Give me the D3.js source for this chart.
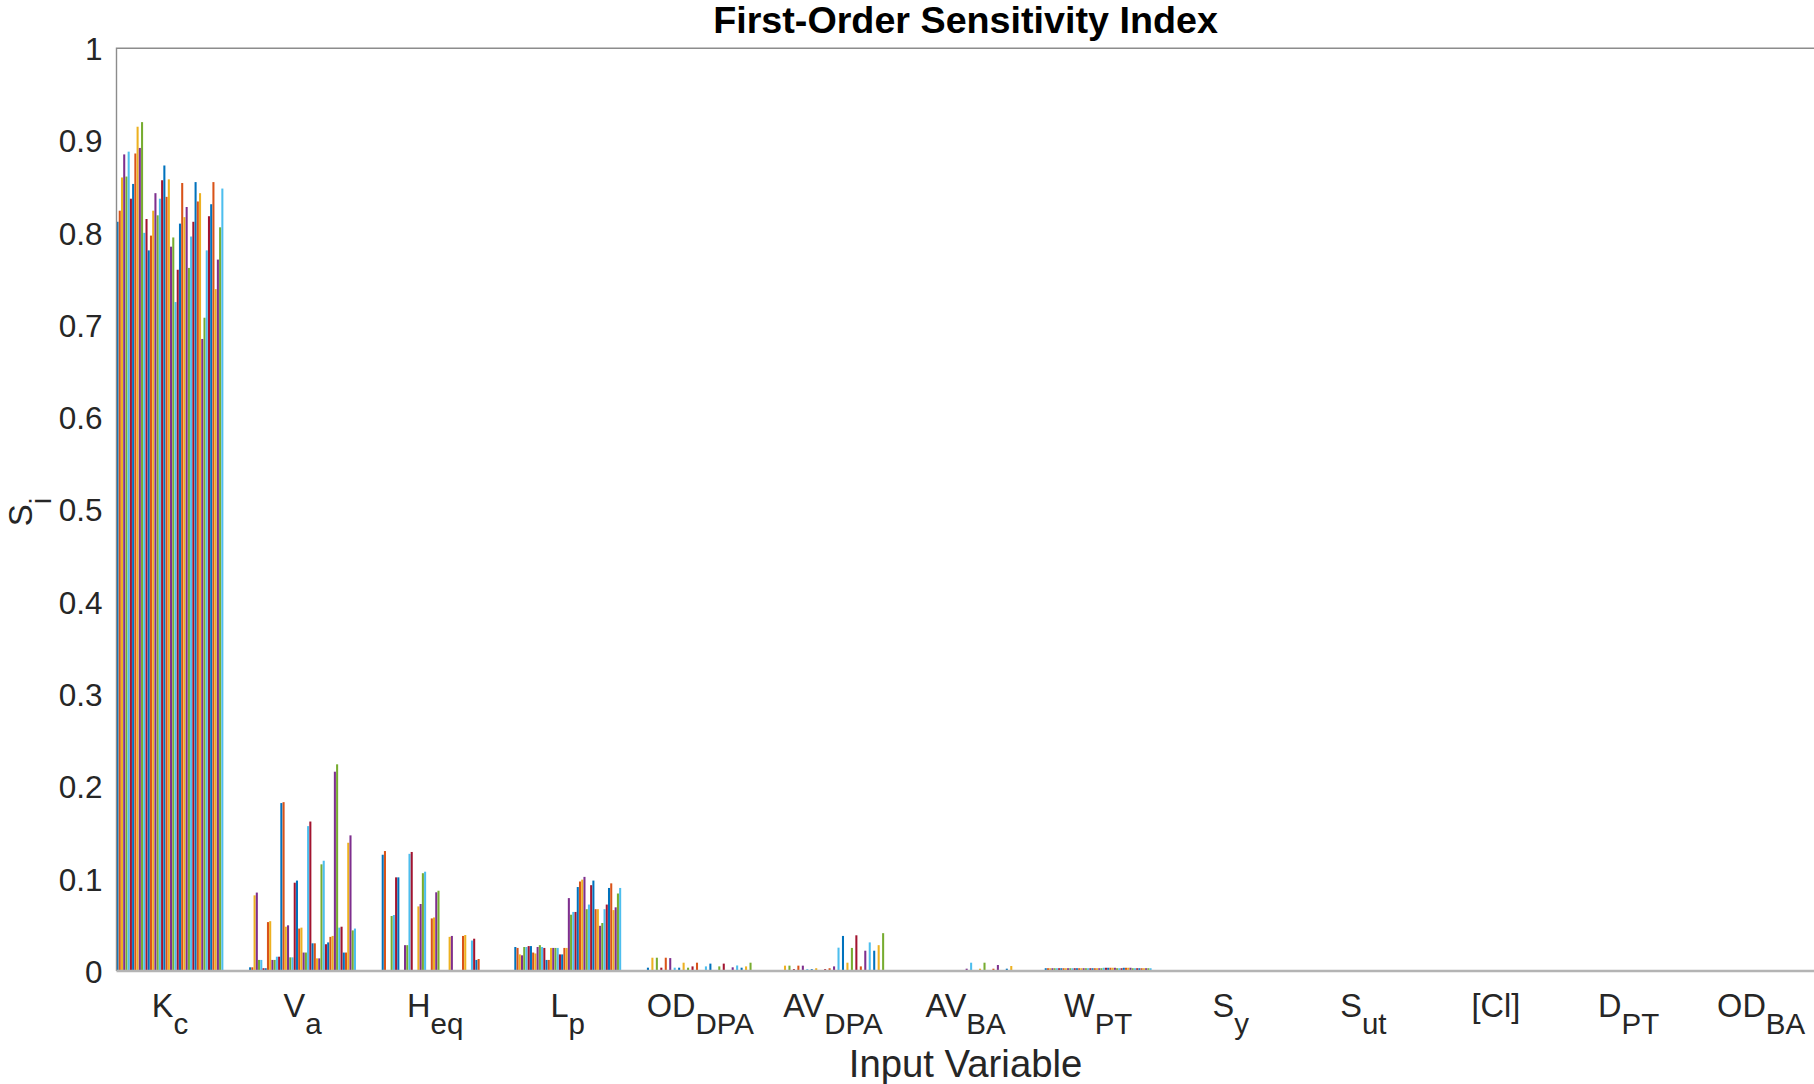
<!DOCTYPE html>
<html>
<head>
<meta charset="utf-8">
<script src="https://cdn.jsdelivr.net/npm/d3@7"></script>
<style>
body{margin:0;background:#fff;}
svg{display:block;font-family:"Liberation Sans",Arial,Helvetica,sans-serif;}
</style>
</head>
<body>
<svg id="chart" width="1814" height="1084"></svg>
<script>
// tick labels: [main, subscript]
var categories=[["K","c"],["V","a"],["H","eq"],["L","p"],["OD","DPA"],["AV","DPA"],["AV","BA"],["W","PT"],["S","y"],["S","ut"],["[Cl]",""],["D","PT"],["OD","BA"]];
var yTicks=[0,0.1,0.2,0.3,0.4,0.5,0.6,0.7,0.8,0.9,1];
var yTickLabels=["0","0.1","0.2","0.3","0.4","0.5","0.6","0.7","0.8","0.9","1"];
var colors=["#0072BD","#D95319","#EDB120","#7E2F8E","#77AC30","#4DBEEE","#A2142F"];

// first-order index of each input, one value per run (48 runs)
var siKc=[0.812,0.824,0.860,0.885,0.861,0.888,0.837,0.853,0.886,0.915,0.892,0.920,0.800,0.815,0.781,0.797,0.824,0.843,0.819,0.837,0.857,0.873,0.839,0.858,0.785,0.795,0.725,0.760,0.810,0.854,0.817,0.828,0.762,0.796,0.812,0.855,0.834,0.843,0.685,0.708,0.781,0.818,0.831,0.855,0.739,0.771,0.806,0.848];
var siVa=[0.004,0.004,0.082,0.085,0.012,0.012,0.003,0.003,0.053,0.054,0.012,0.012,0.0155,0.0155,0.182,0.183,0.048,0.0495,0.0148,0.0148,0.0957,0.098,0.046,0.047,0.020,0.020,0.157,0.162,0.030,0.030,0.0137,0.0137,0.1156,0.1195,0.029,0.031,0.037,0.038,0.216,0.224,0.047,0.048,0.020,0.020,0.139,0.147,0.044,0.046];
var siHeq=[0.126,0.130,0,0,0.0596,0.0607,0.1015,0.1015,0,0,0.028,0.028,0.127,0.129,0,0,0.070,0.0726,0.106,0.1076,0,0,0.057,0.058,0.0853,0.087,0,0,0.001,0.001,0.037,0.038,0,0,0,0,0.038,0.039,0,0,0.033,0.035,0.012,0.013,0,0,0,0];
var siLp=[0.026,0.025,0.018,0.017,0.026,0.026,0.027,0.027,0.020,0.019,0.026,0.028,0.026,0.025,0.012,0.012,0.025,0.025,0.025,0.025,0.018,0.018,0.025,0.025,0.079,0.061,0.064,0.064,0.091,0.097,0.099,0.102,0.067,0.072,0.093,0.098,0.067,0.067,0.049,0.052,0.067,0.072,0.090,0.095,0.066,0.069,0.084,0.090];
var siOdDpa=[0.0036,0,0.0144,0,0.0144,0,0.0036,0,0.0144,0,0.014,0,0.0036,0,0.0036,0,0.009,0,0.0036,0,0.005,0,0.009,0,0.001,0,0.005,0,0.008,0,0.001,0,0.005,0,0.008,0,0.001,0,0.004,0,0.006,0,0.0036,0,0.005,0,0.009,0];
var siAvDpa=[0.001,0,0.0058,0,0.0058,0,0.002,0,0.0058,0,0.0058,0,0.002,0,0.002,0,0.003,0,0.001,0,0.002,0,0.003,0,0.005,0,0.0253,0,0.038,0,0.009,0,0.025,0,0.0387,0,0.005,0,0.022,0,0.031,0,0.022,0,0.028,0,0.041,0];
var siAvBa=[0,0,0,0,0,0,0,0,0,0,0,0,0,0,0,0,0,0,0,0,0,0,0,0,0.0025,0,0.009,0,0,0,0.0025,0,0.009,0,0,0,0.0025,0,0.0065,0,0,0,0.0025,0,0.0054,0,0,0];
var siWpt=[0.003,0.003,0.003,0.003,0.003,0.003,0.003,0.003,0.003,0.003,0.003,0.003,0.003,0.003,0.003,0.003,0.003,0.003,0.003,0.003,0.003,0.003,0.003,0.003,0.003,0.003,0.0035,0.0035,0.0035,0.0035,0.0035,0.0035,0.003,0.003,0.003,0.0035,0.0035,0.0035,0.0035,0.003,0.003,0.003,0.003,0.003,0.003,0.003,0.003,0.003];
var siSy=[0,0,0,0,0,0,0,0,0,0,0,0,0,0,0,0,0,0,0,0,0,0,0,0,0.0006,0.0006,0,0,0,0.0006,0,0,0,0,0,0,0.0006,0,0.0006,0,0,0,0,0,0,0,0,0];
var siSut=[0,0,0,0,0,0,0,0,0,0,0,0,0,0.0005,0,0,0,0,0.0005,0,0,0,0,0,0.0005,0,0,0,0.0005,0,0,0,0,0,0,0,0,0,0,0,0,0,0,0,0,0,0,0];
var siCl=[0,0,0,0,0,0,0,0,0,0.0006,0,0,0,0,0,0,0,0,0,0,0,0,0,0,0,0,0,0,0,0,0,0,0,0,0,0,0,0,0,0,0,0,0,0,0,0,0,0];
var siDpt=[0,0,0,0,0,0,0,0,0,0,0,0,0,0,0,0,0,0,0,0,0,0,0,0,0,0,0,0,0,0,0,0,0,0,0,0,0,0,0,0,0,0,0,0,0,0,0,0];
var siOdBa=[0,0,0,0,0,0,0,0,0,0,0,0,0,0,0,0,0,0,0,0,0,0,0,0,0,0,0,0,0,0,0,0,0,0,0,0,0,0,0,0,0,0,0,0,0,0,0,0];
var values=[siKc,siVa,siHeq,siLp,siOdDpa,siAvDpa,siAvBa,siWpt,siSy,siSut,siCl,siDpt,siOdBa];

var svg=d3.select("#chart");
var plotLeft=116.5,plotRight=1814.6,plotTop=48.3,plotBottom=971;
var nRuns=siKc.length;

var x=d3.scaleBand()
    .domain(d3.range(categories.length))
    .range([plotLeft,plotRight])
    .paddingInner(0.194)
    .paddingOuter(0);
var xRun=d3.scaleBand()
    .domain(d3.range(nRuns))
    .range([0,x.bandwidth()])
    .paddingInner(0.08);
var y=d3.scaleLinear().domain([0,1]).range([plotBottom,plotTop]);

// bars
var groups=svg.append("g").selectAll("g")
    .data(values)
    .join("g")
    .attr("transform",function(d,i){return "translate("+x(i)+",0)";});
groups.selectAll("rect")
    .data(function(d){return d;})
    .join("rect")
    .attr("x",function(d,j){return xRun(j);})
    .attr("width",xRun.bandwidth())
    .attr("y",function(d){return y(d);})
    .attr("height",function(d){return y(0)-y(d);})
    .style("fill",function(d,j){return colors[j%colors.length];});

// axes box
svg.append("path")
   .attr("d","M"+plotRight+","+plotTop+"H"+plotLeft+"V"+plotBottom)
   .style("fill","none")
   .style("stroke","#8c8c8c")
   .style("stroke-width","1.4");
svg.append("line")
   .attr("x1",plotLeft)
   .attr("x2",plotRight)
   .attr("y1",plotBottom)
   .attr("y2",plotBottom)
   .style("stroke","#b4b4b4")
   .style("stroke-width","2.4");

// y axis
var yAxis=svg.append("g")
    .attr("transform","translate("+plotLeft+",0)")
    .call(d3.axisLeft(y).tickValues(yTicks).tickSize(0).tickPadding(14)
        .tickFormat(function(d,i){return yTickLabels[i];}));
yAxis.select(".domain").remove();
yAxis.selectAll("text")
    .attr("dy","0.36em")
    .style("font-family","'Liberation Sans',Arial,sans-serif")
    .style("font-size","31.5px")
    .style("fill","#262626");

// x axis
var xAxis=svg.append("g")
    .attr("transform","translate(0,"+plotBottom+")")
    .call(d3.axisBottom(x).tickSize(0).tickFormat(""));
xAxis.select(".domain").remove();
xAxis.selectAll(".tick text").remove();
var xLabels=xAxis.selectAll(".tick")
    .append("text")
    .attr("y",46)
    .attr("text-anchor","middle")
    .style("font-size","32.5px")
    .style("fill","#262626");
xLabels.append("tspan")
    .text(function(d){return categories[d][0];});
xLabels.append("tspan")
    .attr("dy",17)
    .style("font-size","29.5px")
    .text(function(d){return categories[d][1];});

// title and labels
svg.append("text")
   .attr("x",(plotLeft+plotRight)/2)
   .attr("y",33)
   .attr("text-anchor","middle")
   .style("font-size","37.7px")
   .style("font-weight","bold")
   .style("fill","#000")
   .text("First-Order Sensitivity Index");
svg.append("text")
   .attr("x",(plotLeft+plotRight)/2)
   .attr("y",1077)
   .attr("text-anchor","middle")
   .style("font-size","38.3px")
   .style("fill","#262626")
   .text("Input Variable");
var yLabel=svg.append("text")
   .attr("transform","translate(32,512) rotate(-90)")
   .attr("text-anchor","middle")
   .style("font-size","33px")
   .style("fill","#262626");
yLabel.append("tspan").text("S");
yLabel.append("tspan")
   .attr("dy",19)
   .style("font-size","29px")
   .text("i");
</script>
</body>
</html>
